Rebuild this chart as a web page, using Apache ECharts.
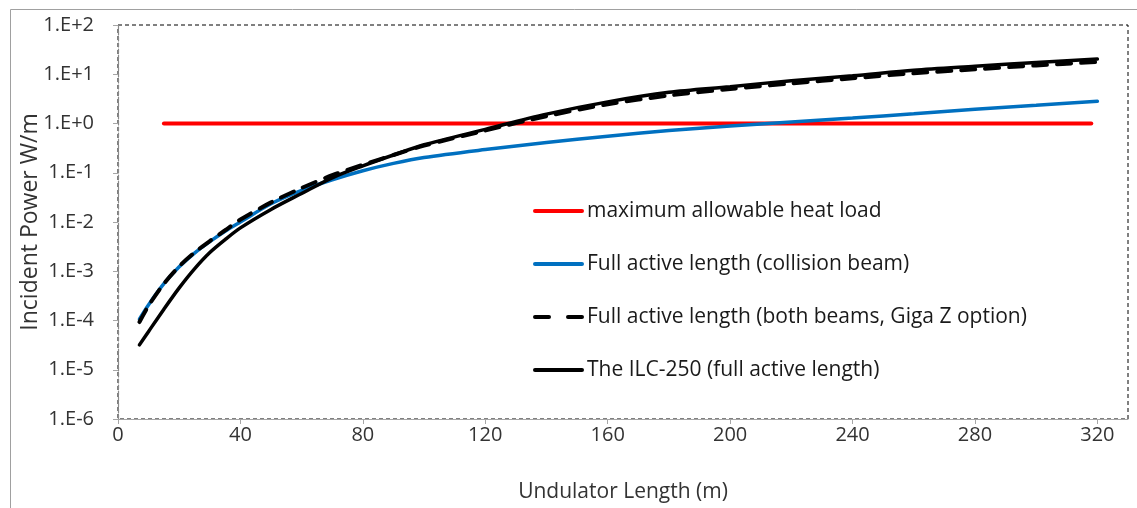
<!DOCTYPE html>
<html><head><meta charset="utf-8">
<script src="https://cdn.jsdelivr.net/npm/echarts@6/dist/echarts.min.js"></script>
<style>html,body{margin:0;padding:0;background:#fff}#c{width:1137px;height:508px}</style>
</head><body><div id="c"></div>
<script>
const xValues = [7,10,15,20,25,30,35,40,50,60,70,80,90,100,120,140,160,180,200,220,240,260,280,300,320];
const heatLoadX = [15,318];
const heatLoadY = [1,1];
const collisionBeam = [1.07e-4,2.1e-4,5.6e-4,1.23e-3,2.34e-3,4.0e-3,6.5e-3,0.010,0.0234,0.0437,0.072,0.110,0.155,0.204,0.295,0.41,0.55,0.72,0.89,1.07,1.29,1.58,1.95,2.34,2.82];
const gigaZ = [9.3e-5,2.0e-4,5.6e-4,1.26e-3,2.4e-3,4.1e-3,6.8e-3,0.0112,0.025,0.049,0.089,0.145,0.229,0.355,0.72,1.41,2.45,3.7,5.0,6.5,8.3,10.5,12.6,15.1,17.8];
const ilc250 = [3.2e-5,6.0e-5,1.7e-4,4.6e-4,1.12e-3,2.4e-3,4.4e-3,7.6e-3,0.018,0.038,0.079,0.138,0.229,0.37,0.76,1.55,2.75,4.3,5.6,7.4,9.3,12.0,14.5,17.4,20.4];
const seriesNames = ['maximum allowable heat load','Full active length (collision beam)','Full active length (both beams, Giga Z option)','The ILC-250 (full active length)'];
const xTicks = [0,40,80,120,160,200,240,280,320];
const yTickLabels = ['1.E-6','1.E-5','1.E-4','1.E-3','1.E-2','1.E-1','1.E+0','1.E+1','1.E+2'];

const font = 'Open Sans';
const pair = (xs, ys) => xs.map((x,i)=>[x, ys[i]]);
const chart = echarts.init(document.getElementById('c'), null, {renderer:'canvas'});
chart.setOption({
  animation:false,
  backgroundColor:'#fff',
  graphic:[{type:'rect', shape:{x:10.5,y:9.5,width:1200,height:600}, style:{fill:null, stroke:'#a0a0a0', lineWidth:1}, z:-10}],
  grid:{left:118, top:25, right:9, bottom:85, show:true, borderColor:'#000', borderWidth:1, borderType:[4,3]},
  legend:{
    orient:'vertical', left:533, top:199, padding:0, itemWidth:47, itemHeight:14, itemGap:29,
    itemStyle:{opacity:0},
    textStyle:{fontFamily:font, fontSize:21, lineHeight:24, color:'#1a1a1a'},
    data:[
      {name:seriesNames[0], lineStyle:{width:4, color:'#ff0000', cap:'round'}},
      {name:seriesNames[1], lineStyle:{width:4, color:'#0070c0', cap:'round'}},
      {name:seriesNames[2], lineStyle:{width:4, color:'#000', type:[14,19]}},
      {name:seriesNames[3], lineStyle:{width:4, color:'#000', cap:'round'}}
    ]
  },
  xAxis:{
    type:'value', min:0, max:330, interval:40,
    name:'Undulator Length (m)', nameLocation:'middle', nameGap:63, nameMoveOverlap:false,
    nameTextStyle:{fontFamily:font, fontSize:21, color:'#333'},
    axisLine:{lineStyle:{color:'#a6a6a6', width:1}},
    axisTick:{show:true, length:5, inside:false, lineStyle:{color:'#a6a6a6'}, customValues:xTicks},
    axisLabel:{fontFamily:font, fontSize:20, color:'#333', margin:6, customValues:xTicks},
    splitLine:{show:false}
  },
  yAxis:{
    type:'log', logBase:10, min:1e-6, max:100,
    name:'Incident Power W/m', nameLocation:'middle', nameGap:76, nameRotate:90, nameMoveOverlap:false,
    nameTextStyle:{fontFamily:font, fontSize:23, color:'#333'},
    axisLine:{show:true, lineStyle:{color:'#8a8a8a', width:1.2, type:[4,2]}},
    axisTick:{show:true, length:5, lineStyle:{color:'#a6a6a6'}},
    axisLabel:{fontFamily:font, fontSize:20, color:'#333', margin:24,
      formatter:(v)=>yTickLabels[Math.round(Math.log10(v))+6]},
    splitLine:{show:false}
  },
  series:[
    {name:seriesNames[0], type:'line', data:pair(heatLoadX, heatLoadY), symbol:'none',
     lineStyle:{color:'#ff0000', width:4, cap:'round'}, itemStyle:{color:'#ff0000'}, z:2},
    {name:seriesNames[1], type:'line', data:pair(xValues, collisionBeam), symbol:'none', smooth:0.3,
     lineStyle:{color:'#0070c0', width:3.5, cap:'round'}, itemStyle:{color:'#0070c0'}, z:3},
    {name:seriesNames[2], type:'line', data:pair(xValues, gigaZ), symbol:'none', smooth:0.3,
     lineStyle:{color:'#000', width:4, type:[14,10], cap:'round'}, itemStyle:{color:'#000'}, z:5},
    {name:seriesNames[3], type:'line', data:pair(xValues, ilc250), symbol:'none', smooth:0.3,
     lineStyle:{color:'#000', width:3.5, cap:'round'}, itemStyle:{color:'#000'}, z:4}
  ]
});
</script></body></html>
